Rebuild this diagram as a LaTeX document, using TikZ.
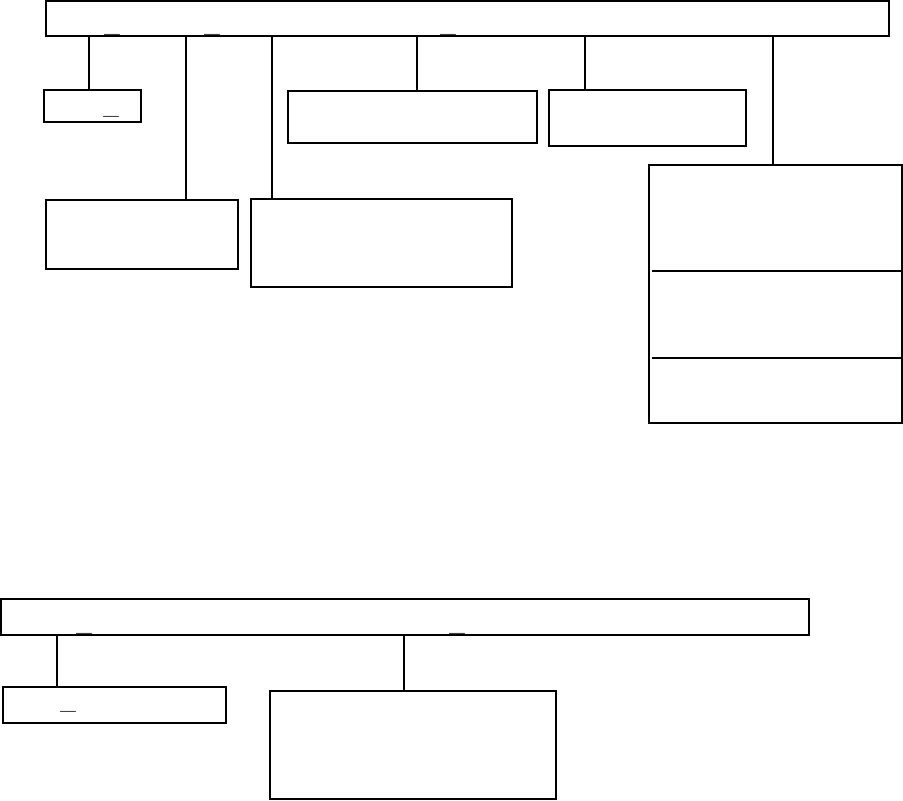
\documentclass[tikz,border=0pt]{standalone}
\usepackage{tikz}
\usetikzlibrary{fit,positioning}

\tikzset{
  box/.style={draw, line width=1.5pt, inner sep=0pt},
  thinbox/.style={draw, line width=0.9pt, inner sep=0pt},
  link/.style={line width=0.8pt},
  divider/.style={line width=1pt},
  uscore/.style={inner sep=0pt, font=\fontsize{14}{16}\bfseries}
}

\begin{document}
\begin{tikzpicture}[x=0.75pt, y=-0.75pt]
\useasboundingbox (0,0) rectangle (903,800);
% upper tree
\node[box, fit={(46,1) (889,36)}] (top) {};
\node[box, fit={(44,90) (141,122)}] (b1) {};
\node[box, fit={(46,200) (238,269)}] (b2) {};
\node[box, fit={(251,199) (512,287)}] (b3) {};
\node[box, fit={(288,91) (537,143)}] (b4) {};
\node[box, fit={(549,90) (746,146)}] (b5) {};
\node[box, fit={(649,165) (902,423)}] (b6) {};
\foreach \x/\b in {89/b1, 186/b2, 272/b3, 417/b4, 585/b5, 773/b6}{
  \draw[link] (top.south -| \x,0) -- (\b.north -| \x,0);
}
% three parts of the last box
\foreach \y in {271, 358}{
  \draw[divider] ([xshift=3pt]b6.west |- 0,\y) -- ([xshift=-1pt]b6.east |- 0,\y);
}
% lower tree
\node[thinbox, fit={(1,599) (809,635)}] (bottom) {};
\node[thinbox, fit={(3,687) (226,723)}] (c1) {};
\node[thinbox, fit={(270,691) (556,799)}] (c2) {};
\foreach \x/\c in {57/c1, 404/c2}{
  \draw[link] (bottom.south -| \x,0) -- (\c.north -| \x,0);
}
% stray underscores
\foreach \x/\y [count=\i] in {112/34, 212/34, 448/34, 111/116, 84/633, 457/633, 68/711}{
  \node[uscore] (u\i) at (\x,\y) {\_};
}
\end{tikzpicture}
\end{document}
